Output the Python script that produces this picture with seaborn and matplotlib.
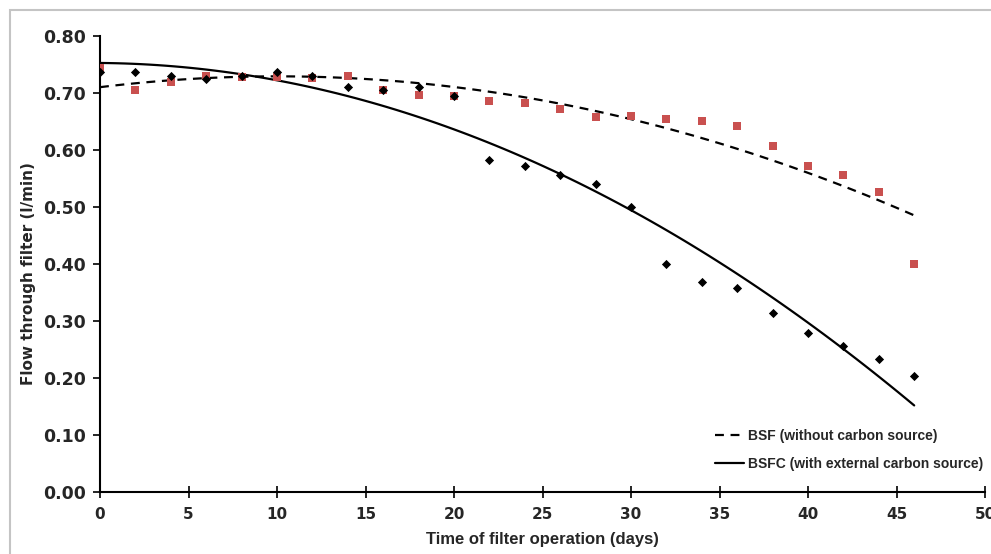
import numpy as np
import pandas as pd
import matplotlib
matplotlib.use('Agg')
import matplotlib.pyplot as plt
import seaborn as sns
from matplotlib.patches import Rectangle
from matplotlib.lines import Line2D

days = [0, 2, 4, 6, 8, 10, 12, 14, 16, 18, 20, 22, 24, 26, 28, 30, 32, 34, 36, 38, 40, 42, 44, 46]
bsf_flow = [0.744, 0.705, 0.720, 0.730, 0.728, 0.728, 0.726, 0.730, 0.705, 0.696, 0.695, 0.686,
			0.682, 0.672, 0.658, 0.660, 0.654, 0.651, 0.642, 0.607, 0.572, 0.556, 0.526, 0.400]
bsfc_flow = [0.737, 0.737, 0.730, 0.725, 0.730, 0.737, 0.730, 0.710, 0.705, 0.710, 0.695, 0.582,
			0.572, 0.556, 0.540, 0.500, 0.400, 0.368, 0.358, 0.314, 0.279, 0.256, 0.233, 0.204]
x_ticks = [0, 5, 10, 15, 20, 25, 30, 35, 40, 45, 50]
y_ticks = [0.0, 0.1, 0.2, 0.3, 0.4, 0.5, 0.6, 0.7, 0.8]

df = pd.DataFrame({'day': days, 'bsf': bsf_flow, 'bsfc': bsfc_flow})

sns.set_style('white')
plt.rcParams['font.family'] = ['Liberation Sans', 'DejaVu Sans']

fig = plt.figure(figsize=(9.91, 5.54), dpi=100)
ax = fig.add_axes([100 / 991, 1 - 492 / 554, 885 / 991, 456 / 554])

# grey frame around the whole picture
fig.patches.append(Rectangle((10 / 991, -0.1), 2, 1.1 - 10 / 554, transform=fig.transFigure,
							 fill=False, edgecolor='#c4c4c4', lw=1.5))

# quadratic trend lines
sns.regplot(ax=ax, x='day', y='bsf', data=df, order=2, scatter=False, ci=None, truncate=True,
			line_kws={'color': 'black', 'lw': 1.6, 'ls': (0, (4, 3))})
sns.regplot(ax=ax, x='day', y='bsfc', data=df, order=2, scatter=False, ci=None, truncate=True,
			line_kws={'color': 'black', 'lw': 1.6})

sns.scatterplot(ax=ax, x='day', y='bsf', data=df, marker='s', s=28, color='#c9504f', linewidth=0, zorder=3)
sns.scatterplot(ax=ax, x='day', y='bsfc', data=df, marker='D', s=22, color='black', linewidth=0, zorder=4)

ax.set_xlim(0, 50)
ax.set_ylim(0, 0.8)
ax.set_xticks(x_ticks)
ax.set_xticklabels(x_ticks, fontsize=11, fontweight='bold', family=['DejaVu Sans'])
ax.set_yticks(y_ticks)
ax.set_yticklabels(['%.2f' % v for v in y_ticks], fontsize=12.5, fontweight='bold', family=['DejaVu Sans'])
ax.set_xlabel('Time of filter operation (days)', fontsize=12, fontweight='bold', labelpad=7)
ax.set_ylabel('Flow through filter (l/min)', fontsize=11, fontweight='bold', family=['DejaVu Sans'])
ax.yaxis.set_label_coords(-0.072, 0.48)

for side in ['top', 'right']:
	ax.spines[side].set_visible(False)
for side in ['left', 'bottom']:
	ax.spines[side].set_color('black')
	ax.spines[side].set_linewidth(1.5)
ax.tick_params(axis='x', direction='inout', length=8, width=1.2, color='black', pad=7, bottom=True)
ax.tick_params(axis='y', direction='out', length=5, width=1.2, color='black', pad=5, left=True)

handles = [Line2D([], [], color='black', lw=1.6, ls=(0, (4, 3))),
		   Line2D([], [], color='black', lw=1.6)]
ax.legend(handles, ['BSF (without carbon source)', 'BSFC (with external carbon source)'],
		  loc='lower left', bbox_to_anchor=(0.695, 0.046), borderaxespad=0, borderpad=0,
		  frameon=False, prop={'size': 10, 'weight': 'bold'}, handlelength=2.1,
		  handletextpad=0.3, labelspacing=1.0)

fig.savefig('out.png', dpi=100)
